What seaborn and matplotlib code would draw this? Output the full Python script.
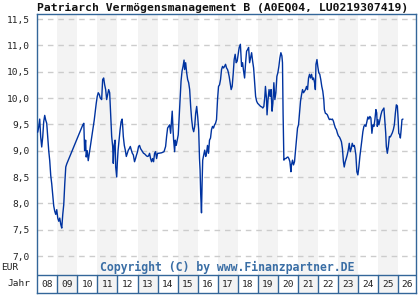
import matplotlib
matplotlib.use("Agg")
import matplotlib.pyplot as plt
import seaborn as sns
import pandas as pd

# Kursverlauf (Jahr als Dezimalzahl, Kurs in EUR)
jahre = [
    2008.02, 2008.07, 2008.12, 2008.17, 2008.22, 2008.27, 2008.32, 2008.37, 2008.42, 2008.47,
    2008.52, 2008.57, 2008.62, 2008.67, 2008.72, 2008.77, 2008.82, 2008.87, 2008.92, 2008.97,
    2009.02, 2009.07, 2009.12, 2009.17, 2009.22, 2009.27, 2009.32, 2009.37, 2009.42, 2009.47,
    2010.27, 2010.32, 2010.36, 2010.41, 2010.44, 2010.49, 2010.54, 2010.59, 2010.64, 2010.69,
    2010.74, 2010.79, 2010.84, 2010.89, 2010.94, 2010.99, 2011.04, 2011.09, 2011.14,
    2011.21, 2011.26, 2011.31, 2011.36, 2011.41, 2011.46, 2011.51, 2011.56, 2011.61, 2011.66,
    2011.71, 2011.76, 2011.79, 2011.83, 2011.88, 2011.91, 2011.96, 2011.99, 2012.03, 2012.08,
    2012.13, 2012.18, 2012.23, 2012.26, 2012.29, 2012.34, 2012.39, 2012.44, 2012.49, 2012.54,
    2012.59, 2012.64, 2012.69, 2012.74, 2012.79, 2012.85, 2012.90, 2012.95, 2013.00, 2013.05,
    2013.10, 2013.15, 2013.20, 2013.25, 2013.30, 2013.35, 2013.40, 2013.45, 2013.50, 2013.55,
    2013.60, 2013.65, 2013.70, 2013.75, 2013.80, 2013.85, 2013.90, 2013.95, 2014.00, 2014.05,
    2014.20, 2014.32, 2014.40, 2014.45, 2014.50, 2014.55, 2014.60, 2014.65, 2014.70, 2014.73,
    2014.77, 2014.80, 2014.85, 2014.88, 2014.93, 2014.98, 2015.03, 2015.07, 2015.12, 2015.17,
    2015.22, 2015.27, 2015.32, 2015.35, 2015.40, 2015.45, 2015.50, 2015.55, 2015.60, 2015.65,
    2015.70, 2015.75, 2015.80, 2015.85, 2015.90, 2015.95, 2016.00, 2016.05, 2016.09, 2016.12,
    2016.15, 2016.19, 2016.22, 2016.25, 2016.30, 2016.35, 2016.40, 2016.44, 2016.49, 2016.54,
    2016.59, 2016.64, 2016.69, 2016.74, 2016.79, 2016.84, 2016.89, 2016.94, 2016.99, 2017.04,
    2017.09, 2017.14, 2017.19, 2017.24, 2017.29, 2017.34, 2017.39, 2017.44, 2017.49,
    2017.52, 2017.57, 2017.62, 2017.67, 2017.72, 2017.77, 2017.82, 2017.87, 2017.92, 2017.97,
    2018.02, 2018.07, 2018.13, 2018.16, 2018.19, 2018.24, 2018.29, 2018.34, 2018.39, 2018.44,
    2018.49, 2018.54, 2018.59, 2018.64, 2018.69, 2018.74, 2018.79, 2018.84, 2018.89, 2018.94,
    2018.99, 2019.04, 2019.09, 2019.14, 2019.20, 2019.25, 2019.30, 2019.35, 2019.38, 2019.43,
    2019.46, 2019.51, 2019.56, 2019.61, 2019.66, 2019.71, 2019.75, 2019.80, 2019.85, 2019.90,
    2019.95, 2020.00, 2020.05, 2020.10, 2020.15, 2020.20, 2020.23, 2020.26, 2020.30, 2020.35,
    2020.40, 2020.45, 2020.50, 2020.55, 2020.60, 2020.65, 2020.68, 2020.73, 2020.78, 2020.83,
    2020.88, 2020.93, 2020.98, 2021.03, 2021.08, 2021.13, 2021.18, 2021.23, 2021.28, 2021.33,
    2021.38, 2021.43, 2021.48, 2021.53, 2021.58, 2021.63, 2021.68, 2021.73, 2021.78, 2021.83,
    2021.87, 2021.90, 2021.95, 2021.99, 2022.04, 2022.09, 2022.14, 2022.19, 2022.24, 2022.29,
    2022.32, 2022.37, 2022.42, 2022.47, 2022.52, 2022.57, 2022.62, 2022.67, 2022.72, 2022.77,
    2022.82, 2022.87, 2022.92, 2022.97, 2023.02, 2023.07, 2023.12, 2023.17, 2023.22, 2023.27,
    2023.31, 2023.36, 2023.41, 2023.46, 2023.51, 2023.56, 2023.61, 2023.66, 2023.71, 2023.76,
    2023.81, 2023.84, 2023.89, 2023.94, 2023.99, 2024.04, 2024.09, 2024.14, 2024.19, 2024.24,
    2024.29, 2024.34, 2024.39, 2024.44, 2024.49, 2024.54, 2024.59, 2024.64, 2024.69, 2024.74,
    2024.79, 2024.84, 2024.89, 2024.93, 2024.96, 2024.99, 2025.04, 2025.09, 2025.14, 2025.19,
    2025.24, 2025.29, 2025.33, 2025.38, 2025.41, 2025.46, 2025.51, 2025.56, 2025.61, 2025.66,
    2025.71, 2025.76, 2025.81, 2025.86, 2025.91, 2025.96, 2026.00, 2026.03, 2026.08, 2026.11,
    2026.15, 2026.19, 2026.24,
]
kurs = [
    9.35, 9.45, 9.60, 9.26, 9.07, 9.26, 9.55, 9.67, 9.58, 9.52,
    9.26, 9.00, 8.81, 8.53, 8.37, 8.17, 7.95, 7.85, 7.79, 7.88,
    7.72, 7.66, 7.72, 7.60, 7.53, 7.79, 7.98, 8.37, 8.69, 8.75,
    9.49, 9.52, 9.00, 9.20, 8.88, 9.00, 8.81, 8.94, 9.07, 9.20,
    9.33, 9.46, 9.58, 9.74, 9.90, 10.03, 10.10, 10.07, 10.00,
    9.97, 10.35, 10.38, 10.25, 10.16, 9.97, 10.06, 10.16, 10.10, 9.68,
    9.27, 9.08, 8.76, 9.10, 9.20, 8.69, 8.50, 8.76, 9.01, 9.20,
    9.40, 9.55, 9.60, 9.46, 9.27, 9.10, 9.01, 8.89, 8.95, 9.01,
    9.04, 9.08, 9.01, 8.95, 8.92, 8.79, 8.85, 8.92, 8.98, 9.08,
    9.10, 9.04, 9.01, 8.98, 8.95, 8.94, 8.92, 8.90, 8.89, 8.90,
    8.95, 8.85, 8.79, 8.85, 8.79, 8.95, 8.98, 8.85, 8.95, 8.95,
    8.96, 8.98, 9.08, 9.27, 9.43, 9.46, 9.49, 9.33, 9.59, 9.75,
    9.40, 9.20, 8.98, 9.20, 9.10, 9.20, 9.30, 9.59, 9.97, 10.32,
    10.51, 10.60, 10.72, 10.54, 10.67, 10.48, 10.35, 10.29, 10.16, 9.84,
    9.59, 9.43, 9.36, 9.46, 9.71, 9.84, 9.65, 9.40, 8.85, 8.63,
    8.18, 7.82, 8.38, 8.82, 8.92, 9.01, 8.89, 8.95, 9.10, 8.95,
    9.20, 9.24, 9.40, 9.46, 9.43, 9.49, 9.52, 9.59, 9.97, 10.22,
    10.25, 10.35, 10.54, 10.60, 10.57, 10.60, 10.64, 10.57, 10.54,
    10.50, 10.41, 10.29, 10.16, 10.22, 10.45, 10.73, 10.83, 10.67, 10.70,
    10.83, 10.96, 11.02, 10.80, 10.60, 10.67, 10.51, 10.38, 10.67, 10.89,
    10.92, 10.96, 10.67, 10.76, 10.86, 10.70, 10.57, 10.29, 10.03, 9.94,
    9.90, 9.88, 9.86, 9.84, 9.83, 9.81, 9.84, 10.03, 10.22, 10.00,
    9.68, 9.97, 10.16, 10.03, 10.16, 9.75, 9.90, 10.29, 9.97, 10.10,
    10.41, 10.48, 10.60, 10.76, 10.86, 10.80, 10.67, 9.71, 8.82, 8.85,
    8.85, 8.87, 8.88, 8.85, 8.79, 8.60, 8.73, 8.82, 8.73, 8.79,
    9.01, 9.24, 9.43, 9.49, 9.71, 9.94, 10.06, 10.16, 10.10, 10.13,
    10.16, 10.22, 10.16, 10.38, 10.45, 10.38, 10.45, 10.35, 10.38, 10.29,
    10.16, 10.64, 10.73, 10.60, 10.48, 10.45, 10.35, 10.22, 10.13, 9.97,
    9.78, 9.71, 9.70, 9.68, 9.63, 9.59, 9.60, 9.59, 9.60, 9.56,
    9.49, 9.43, 9.40, 9.33, 9.28, 9.26, 9.22, 9.17, 9.04, 8.79,
    8.69, 8.79, 8.85, 8.92, 9.01, 9.14, 8.98, 9.04, 9.14, 9.08,
    9.10, 9.05, 8.92, 8.60, 8.54, 8.69, 8.89, 9.04, 9.20, 9.36,
    9.46, 9.49, 9.46, 9.55, 9.64, 9.60, 9.65, 9.62, 9.33, 9.49,
    9.46, 9.59, 9.78, 9.72, 9.46, 9.59, 9.49, 9.59, 9.68, 9.75,
    9.78, 9.81, 9.59, 9.33, 9.08, 8.95, 9.08, 9.27, 9.26, 9.30,
    9.34, 9.40, 9.49, 9.71, 9.87, 9.85, 9.59, 9.33, 9.30, 9.24,
    9.40, 9.59, 9.60,
]

jahr_labels = ['08', '09', '10', '11', '12', '13', '14', '15', '16', '17',
               '18', '19', '20', '21', '22', '23', '24', '25', '26']
y_ticks = [7.0, 7.5, 8.0, 8.5, 9.0, 9.5, 10.0, 10.5, 11.0, 11.5]

df = pd.DataFrame({'jahr': jahre, 'kurs': kurs})

sns.set_style("white")
plt.rcParams['font.family'] = ['DejaVu Sans Mono']

rahmen = '#336699'
x0, x1 = 2008.0, 2026.89
y_unten, y_oben = 6.2975, 11.595
y_zeile = 6.639

fig = plt.figure(figsize=(4.2, 3.0), dpi=100)
ax = fig.add_axes([37.3 / 420, 7 / 300, (416 - 37.3) / 420, 279 / 300])

# Graue Streifen fuer ungerade Jahre
for i in range(len(jahr_labels)):
    if i % 2 == 1:
        ax.axvspan(x0 + i, min(x0 + i + 1, x1), color='#f3f3f3', lw=0, zorder=0)

for t in y_ticks:
    ax.axhline(t, color='#cccccc', lw=1, ls=(0, (4, 3.5)), zorder=1)

sns.lineplot(data=df, x='jahr', y='kurs', color='#0033a0', lw=1.0, ax=ax, zorder=3)

# Jahreszeile unten
ax.axhline(y_zeile, color=rahmen, lw=1, zorder=4)
for i, lab in enumerate(jahr_labels):
    if i > 0:
        ax.plot([x0 + i, x0 + i], [y_unten, y_zeile], color=rahmen, lw=1, zorder=4)
    mitte = (x0 + i + min(x0 + i + 1, x1)) / 2
    ax.text(mitte, (y_unten + y_zeile) / 2, lab, ha='center', va='center',
            fontsize=6.8, color='#222222')

ax.text(2017.45, 6.78, 'Copyright (C) by www.Finanzpartner.DE', ha='center', va='center',
        fontsize=8.3, fontweight='bold', color='#3a6ea5')

ax.set_xlim(x0, x1)
ax.set_ylim(y_unten, y_oben)
ax.set_xticks([])
ax.set_yticks(y_ticks)
ax.set_yticklabels([f'{t:.1f}'.replace('.', ',') for t in y_ticks], fontsize=6.8, color='#222222')
ax.tick_params(axis='y', length=0, pad=5.5)
ax.set_xlabel('')
ax.set_ylabel('')
for s in ax.spines.values():
    s.set_color(rahmen)
    s.set_linewidth(1)

fig.text(1 / 420, 1 - 267 / 300, 'EUR', ha='left', va='center', fontsize=6.8, color='#222222')
fig.text(30 / 420, 1 - 284 / 300, 'Jahr', ha='right', va='center', fontsize=6.8, color='#222222')
fig.text(37 / 420, 1 - 8 / 300, 'Patriarch Vermögensmanagement B (A0EQ04, LU0219307419)',
         ha='left', va='center', fontsize=8.2, fontweight='bold', color='#111111')

fig.savefig('out.png', dpi=100)
